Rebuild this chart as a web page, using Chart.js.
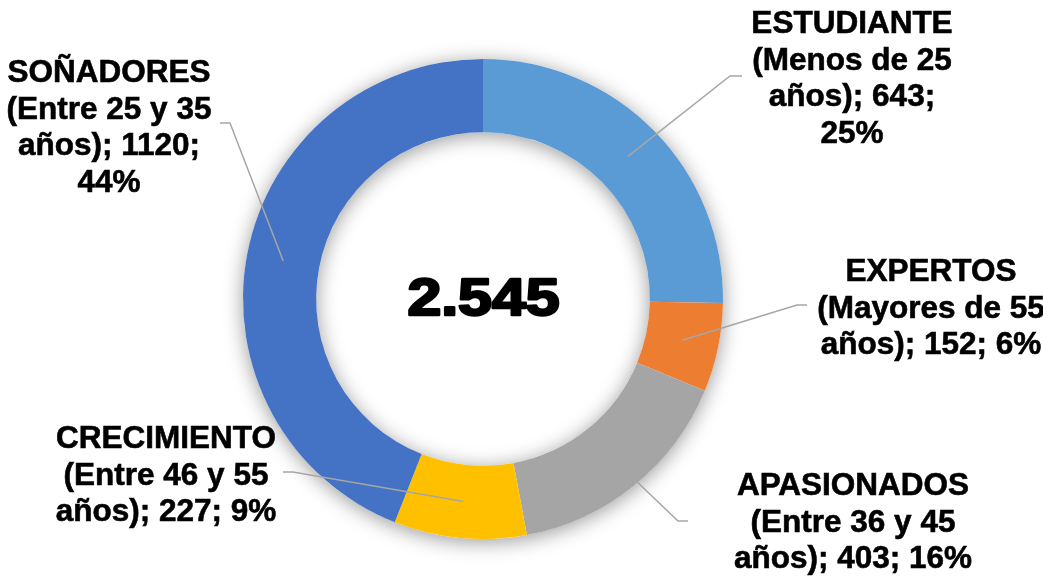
<!DOCTYPE html>
<html>
<head>
<meta charset="utf-8">
<script src="https://cdn.jsdelivr.net/npm/chart.js@4/dist/chart.umd.min.js"></script>
<style>
  html, body { margin: 0; padding: 0; background: #fff; }
  #wrap { width: 1043px; height: 577px; position: relative; }
</style>
</head>
<body>
<div id="wrap"><canvas id="c" width="1043" height="577"></canvas></div>
<script>
// ---- data ----
const categories = ['ESTUDIANTE', 'EXPERTOS', 'APASIONADOS', 'CRECIMIENTO', 'SOÑADORES'];
const ageRanges = ['(Menos de 25 años)', '(Mayores de 55 años)', '(Entre 36 y 45 años)', '(Entre 46 y 55 años)', '(Entre 25 y 35 años)'];
const values = [643, 152, 403, 227, 1120];
const colors = ['#5B9BD5', '#ED7D31', '#A5A5A5', '#FFC000', '#4472C4'];

// ---- label layout (positions only) ----
const labelLayout = [
  { x: 852, y: 33,  maxW: 215, elbow: [730, 76],  end: [742, 76] },
  { x: 931, y: 281, maxW: 240, elbow: [797, 305], end: [807, 305] },
  { x: 853, y: 495, maxW: 248, elbow: [678, 521], end: [688, 521] },
  { x: 166, y: 448, maxW: 240, elbow: [293, 472], end: [283, 472] },
  { x: 109, y: 82,  maxW: 218, elbow: [230, 123], end: [220, 123] }
];
const LINE_H = 36.7;
const LABEL_FONT = 'bold 31.5px "Liberation Sans", Arial, sans-serif';

const total = values.reduce((a, b) => a + b, 0);
function fmtThousands(n) { return String(n).replace(/\B(?=(\d{3})+(?!\d))/g, '.'); }

function wrap(ctx, text, maxW) {
  const words = text.split(' ');
  const lines = [];
  let cur = '';
  for (const w of words) {
    const test = cur ? cur + ' ' + w : w;
    if (cur && ctx.measureText(test).width > maxW) { lines.push(cur); cur = w; }
    else cur = test;
  }
  if (cur) lines.push(cur);
  return lines;
}

const ringShadow = {
  id: 'ringShadow',
  beforeDatasetsDraw(chart) {
    const meta = chart.getDatasetMeta(0);
    const a = meta.data[0];
    if (!a) return;
    const ctx = chart.ctx;
    ctx.save();
    ctx.shadowColor = 'rgba(0,0,0,0.4)';
    ctx.shadowBlur = 20;
    ctx.shadowOffsetX = 0;
    ctx.shadowOffsetY = 3;
    ctx.fillStyle = '#ffffff';
    ctx.beginPath();
    ctx.arc(a.x, a.y, a.outerRadius, 0, Math.PI * 2);
    ctx.moveTo(a.x + a.innerRadius, a.y);
    ctx.arc(a.x, a.y, a.innerRadius, 0, Math.PI * 2, true);
    ctx.fill('evenodd');
    ctx.restore();
  }
};

const labelsPlugin = {
  id: 'labelsPlugin',
  afterDatasetsDraw(chart) {
    const ctx = chart.ctx;
    const meta = chart.getDatasetMeta(0);
    ctx.save();
    ctx.font = LABEL_FONT;
    meta.data.forEach((arc, i) => {
      const L = labelLayout[i];
      const mid = (arc.startAngle + arc.endAngle) / 2;
      const r = (arc.innerRadius + arc.outerRadius) / 2;
      const sx = arc.x + Math.cos(mid) * r;
      const sy = arc.y + Math.sin(mid) * r;
      // leader line
      ctx.strokeStyle = '#A6A6A6';
      ctx.lineWidth = 1.5;
      ctx.beginPath();
      ctx.moveTo(sx, sy);
      ctx.lineTo(L.elbow[0], L.elbow[1]);
      ctx.lineTo(L.end[0], L.end[1]);
      ctx.stroke();
      // text
      const pct = Math.round(values[i] / total * 100);
      const rest = ageRanges[i] + '; ' + values[i] + '; ' + pct + '%';
      const lines = [categories[i]].concat(wrap(ctx, rest, L.maxW));
      ctx.fillStyle = '#000';
      ctx.strokeStyle = '#000';
      ctx.lineWidth = 0.6;
      ctx.textAlign = 'center';
      ctx.textBaseline = 'alphabetic';
      lines.forEach((ln, k) => {
        ctx.fillText(ln, L.x, L.y + k * LINE_H);
        ctx.strokeText(ln, L.x, L.y + k * LINE_H);
      });
    });
    // center total
    const a0 = meta.data[0];
    ctx.save();
    ctx.translate(a0.x + 0.5, 315);
    ctx.scale(1.17, 1);
    ctx.font = 'bold 52px "Liberation Sans", Arial, sans-serif';
    ctx.textAlign = 'center';
    ctx.textBaseline = 'alphabetic';
    ctx.fillStyle = '#000';
    ctx.strokeStyle = '#000';
    ctx.lineWidth = 2.5;
    ctx.lineJoin = 'round';
    const t = fmtThousands(total);
    ctx.strokeText(t, 0, 0);
    ctx.fillText(t, 0, 0);
    ctx.restore();
    ctx.restore();
  }
};

new Chart(document.getElementById('c'), {
  type: 'doughnut',
  data: {
    labels: categories,
    datasets: [{
      data: values,
      backgroundColor: colors,
      borderWidth: 0,
      hoverOffset: 0
    }]
  },
  options: {
    responsive: false,
    animation: false,
    devicePixelRatio: 1,
    cutout: '69.5%',
    layout: { padding: { left: 243, right: 320, top: 59, bottom: 38 } },
    plugins: { legend: { display: false }, tooltip: { enabled: false } }
  },
  plugins: [ringShadow, labelsPlugin]
});
</script>
</body>
</html>
